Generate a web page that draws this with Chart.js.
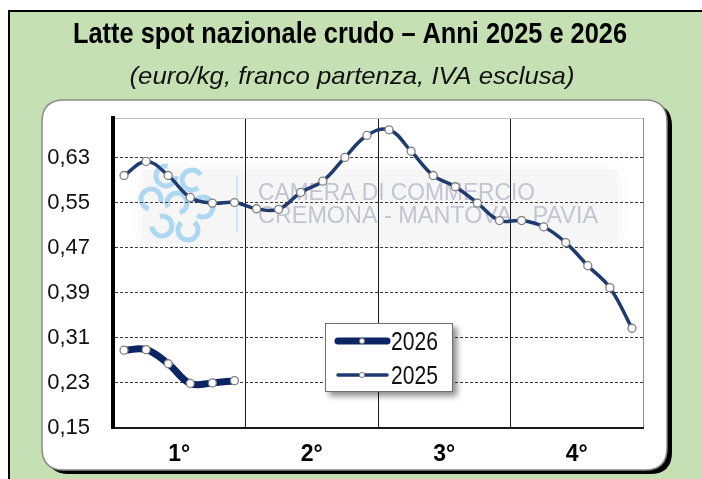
<!DOCTYPE html>
<html>
<head>
<meta charset="utf-8">
<script src="https://cdn.jsdelivr.net/npm/chart.js@4.4.1/dist/chart.umd.min.js"></script>
<style>
  html, body { margin: 0; padding: 0; background: #ffffff; }
  #wrap { position: relative; width: 702px; height: 479px; }
</style>
</head>
<body>
<div id="wrap"><canvas id="latte-chart" width="702" height="479"></canvas></div>
<script>
// quarter labels shown under the x axis (6 half-month readings each)
const quarters = ['1°', '2°', '3°', '4°'];
const yTickValues = [0.15, 0.23, 0.31, 0.39, 0.47, 0.55, 0.63];
const seriesLabels = ['2026', '2025'];

// euro/kg, half-monthly readings
const prices2025 = [0.598, 0.623, 0.598, 0.559, 0.549, 0.550, 0.539, 0.538, 0.568, 0.588, 0.630, 0.669,
                    0.679, 0.641, 0.598, 0.578, 0.549, 0.518, 0.518, 0.507, 0.479, 0.438, 0.399, 0.327];
const prices2026 = [0.288, 0.289, 0.264, 0.229, 0.230, 0.234];

const titleText = 'Latte spot nazionale crudo – Anni 2025 e 2026';
const subtitleText = '(euro/kg, franco partenza, IVA esclusa)';
const watermarkLines = ['CAMERA DI COMMERCIO', 'CREMONA - MANTOVA - PAVIA'];

const perQuarter = 6;
const FONT = '"Liberation Sans", Arial, sans-serif';

function toPoints(values) {
    return values.map((v, i) => ({ x: i + 0.5, y: v }));
}

function roundedRect(ctx, x, y, w, h, r) {
    ctx.beginPath();
    ctx.moveTo(x + r, y);
    ctx.lineTo(x + w - r, y);
    ctx.quadraticCurveTo(x + w, y, x + w, y + r);
    ctx.lineTo(x + w, y + h - r);
    ctx.quadraticCurveTo(x + w, y + h, x + w - r, y + h);
    ctx.lineTo(x + r, y + h);
    ctx.quadraticCurveTo(x, y + h, x, y + h - r);
    ctx.lineTo(x, y + r);
    ctx.quadraticCurveTo(x, y, x + r, y);
    ctx.closePath();
}

// draws text squeezed to a given width (the original uses a narrow face)
function fitText(ctx, text, x, baseline, width, font, color, align) {
    ctx.save();
    ctx.font = font;
    ctx.fillStyle = color;
    ctx.textAlign = align || 'center';
    ctx.textBaseline = 'alphabetic';
    const w = ctx.measureText(text).width;
    ctx.translate(x, baseline);
    ctx.scale(width / w, 1);
    ctx.fillText(text, 0, 0);
    ctx.restore();
}

const backdropPlugin = {
    id: 'backdrop',
    beforeDraw(chart) {
        const ctx = chart.ctx;
        const W = chart.width, H = chart.height;
        ctx.save();
        ctx.fillStyle = '#ffffff';
        ctx.fillRect(0, 0, W, H);
        ctx.fillStyle = '#c5e0b3';
        ctx.fillRect(8, 10, W - 8, H - 10);
        ctx.fillStyle = '#000000';
        ctx.fillRect(8, 10, W - 8, 2);
        ctx.fillRect(8, 10, 2, H - 10);

        // white panel with hard black shadow
        roundedRect(ctx, 47, 104, 625, 370, 22);
        ctx.fillStyle = '#000000';
        ctx.fill();
        roundedRect(ctx, 42, 100, 625, 370, 22);
        ctx.fillStyle = '#ffffff';
        ctx.fill();
        ctx.strokeStyle = '#8a8a8a';
        ctx.lineWidth = 1.5;
        ctx.stroke();

        fitText(ctx, titleText, 350, 43, 554, 'bold 29px ' + FONT, '#000000');
        fitText(ctx, subtitleText, 352, 84, 445, 'italic 24px ' + FONT, '#111111');

        // watermark behind the plot
        ctx.save();
        ctx.shadowColor = '#f4f4f5';
        ctx.shadowBlur = 16;
        ctx.fillStyle = '#f6f6f7';
        ctx.fillRect(142, 170, 476, 72);
        ctx.restore();

        ctx.strokeStyle = '#aed8f0';
        ctx.lineWidth = 5;
        const rings = [[166, 176], [192, 180], [151, 199], [177, 203], [203, 207], [162, 226], [188, 230]];
        rings.forEach(([cx, cy], k) => {
            ctx.beginPath();
            ctx.arc(cx, cy, 10, k * 0.9, k * 0.9 + Math.PI * 1.55);
            ctx.stroke();
        });
        ctx.strokeStyle = '#cfe8f5';
        ctx.lineWidth = 2;
        ctx.beginPath();
        ctx.moveTo(237, 176);
        ctx.lineTo(237, 232);
        ctx.stroke();

        fitText(ctx, watermarkLines[0], 258, 200, 277, '24px ' + FONT, '#c2c4d2', 'left');
        fitText(ctx, watermarkLines[1], 258, 223, 340, '24px ' + FONT, '#c2c4d2', 'left');
        ctx.restore();
    }
};

const boxLegendPlugin = {
    id: 'boxLegend',
    afterDraw(chart) {
        const ctx = chart.ctx;
        const box = { x: 325, y: 323, w: 128, h: 69 };
        ctx.save();
        ctx.shadowColor = 'rgba(0, 0, 0, 0.45)';
        ctx.shadowBlur = 6;
        ctx.shadowOffsetX = 4;
        ctx.shadowOffsetY = 4;
        ctx.fillStyle = '#ffffff';
        ctx.fillRect(box.x, box.y, box.w, box.h);
        ctx.restore();

        ctx.save();
        ctx.strokeStyle = '#707070';
        ctx.lineWidth = 1;
        ctx.strokeRect(box.x + 0.5, box.y + 0.5, box.w - 1, box.h - 1);

        chart.data.datasets.forEach((ds, i) => {
            const y = box.y + 18 + i * 34;
            ctx.strokeStyle = ds.borderColor;
            ctx.lineWidth = ds.borderWidth;
            ctx.lineCap = 'round';
            ctx.beginPath();
            ctx.moveTo(338, y);
            ctx.lineTo(387, y);
            ctx.stroke();
            ctx.beginPath();
            ctx.arc(362, y, 2.6, 0, Math.PI * 2);
            ctx.fillStyle = '#ffffff';
            ctx.fill();
            ctx.lineWidth = 1;
            ctx.strokeStyle = '#808080';
            ctx.stroke();
            fitText(ctx, ds.label, 391, y + 9, 47, '25px ' + FONT, '#111111', 'left');
        });
        ctx.restore();
    }
};

const ctx = document.getElementById('latte-chart').getContext('2d');

new Chart(ctx, {
    type: 'line',
    data: {
        datasets: [
            {
                label: seriesLabels[0],
                data: toPoints(prices2026),
                borderColor: '#0b2464',
                borderWidth: 7,
                tension: 0.4,
                pointRadius: 4,
                pointBackgroundColor: '#ffffff',
                pointBorderColor: '#7f7f7f',
                pointBorderWidth: 1.3,
                borderCapStyle: 'round'
            },
            {
                label: seriesLabels[1],
                data: toPoints(prices2025),
                borderColor: '#1f3a6f',
                borderWidth: 3.5,
                tension: 0.4,
                pointRadius: 4,
                pointBackgroundColor: '#ffffff',
                pointBorderColor: '#7f7f7f',
                pointBorderWidth: 1.3
            }
        ]
    },
    options: {
        responsive: false,
        animation: false,
        layout: { padding: { top: 118, right: 59, left: 0, bottom: 0 } },
        plugins: {
            legend: { display: false },
            tooltip: { enabled: false }
        },
        scales: {
            x: {
                type: 'linear',
                min: 0,
                max: quarters.length * perQuarter,
                afterBuildTicks: (scale) => {
                    const ticks = [];
                    for (let v = 0; v <= quarters.length * perQuarter; v += perQuarter / 2) {
                        ticks.push({ value: v });
                    }
                    scale.ticks = ticks;
                },
                afterFit: (scale) => { scale.height = 51; },
                ticks: {
                    autoSkip: false,
                    maxRotation: 0,
                    padding: 13,
                    color: '#000000',
                    font: { family: FONT, size: 23, weight: 'bold' },
                    callback: (value) => {
                        if (value % perQuarter === perQuarter / 2) {
                            return quarters[(value - perQuarter / 2) / perQuarter];
                        }
                        return '';
                    }
                },
                grid: {
                    drawTicks: false,
                    lineWidth: 1,
                    color: (c) => {
                        const v = c.tick ? c.tick.value : 0;
                        if (v === quarters.length * perQuarter) return '#8c8c8c';
                        return v % perQuarter === 0 ? '#1a1a1a' : 'rgba(0,0,0,0)';
                    }
                },
                border: { color: '#1a1a1a', width: 2 }
            },
            y: {
                min: 0.15,
                max: 0.70,
                afterBuildTicks: (scale) => {
                    scale.ticks = yTickValues.concat([0.70]).map(v => ({ value: v }));
                },
                afterFit: (scale) => { scale.width = 113; },
                ticks: {
                    padding: 23,
                    color: '#111111',
                    font: { family: FONT, size: 22 },
                    callback: (value) => value > 0.69 ? '' : value.toFixed(2).replace('.', ',')
                },
                grid: {
                    drawTicks: false,
                    lineWidth: 1,
                    color: (c) => (c.tick && c.tick.value > 0.69) ? '#c0c0c0' : '#3a3a3a'
                },
                border: {
                    color: '#000000',
                    width: 4,
                    dash: (c) => (c.tick && c.tick.value > 0.69) ? [] : [3, 2]
                }
            }
        }
    },
    plugins: [backdropPlugin, boxLegendPlugin]
});
</script>
</body>
</html>
